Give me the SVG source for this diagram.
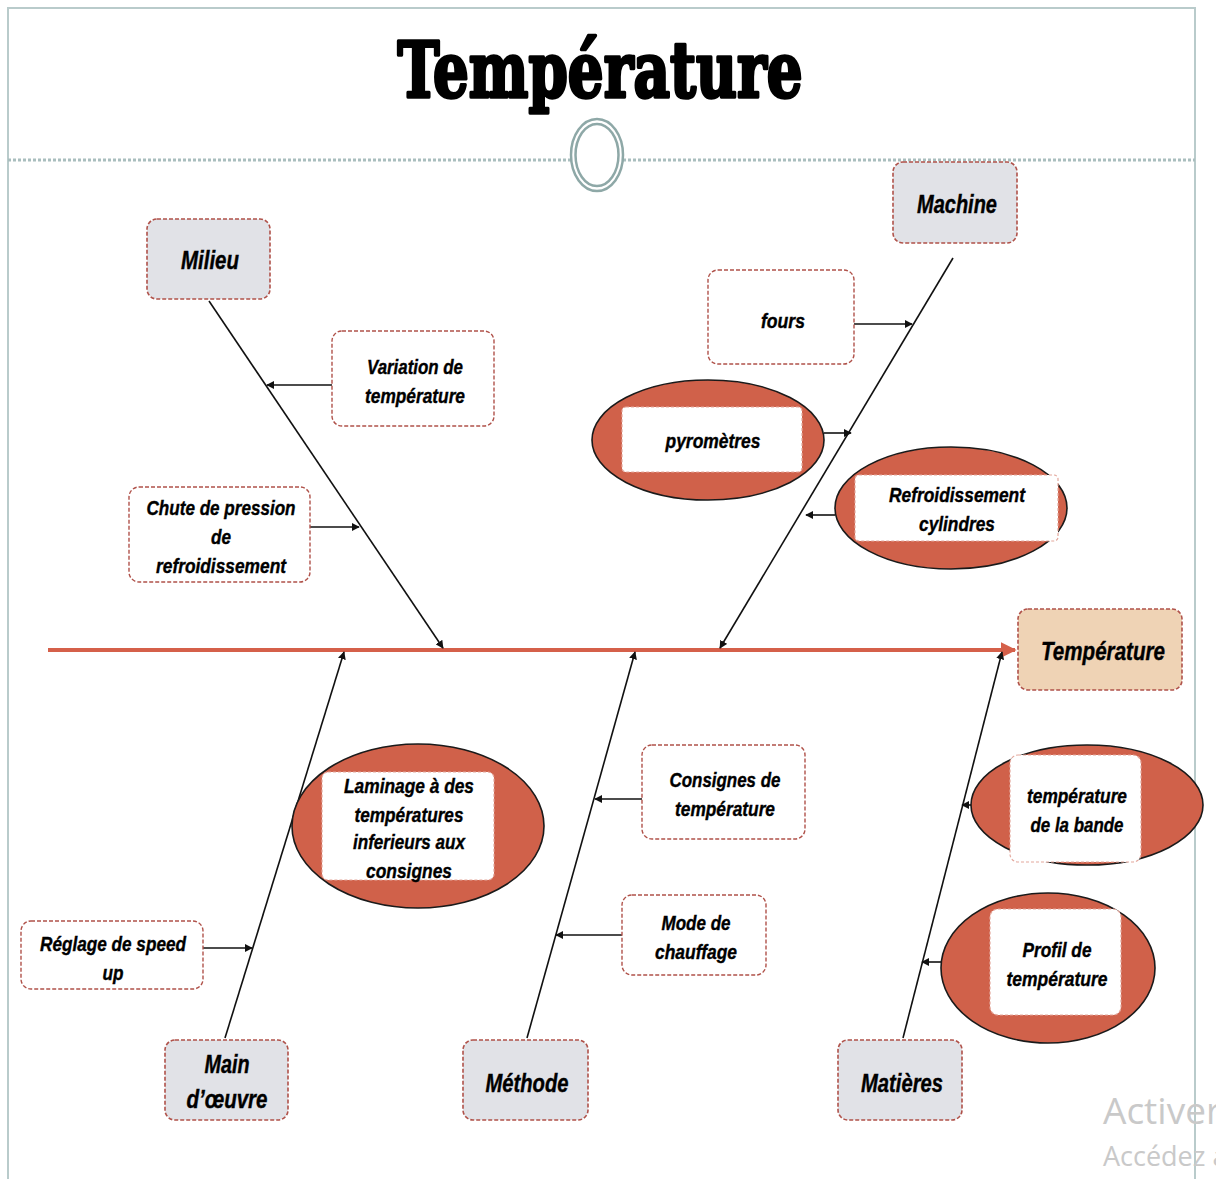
<svg xmlns="http://www.w3.org/2000/svg" width="1216" height="1179" viewBox="0 0 1216 1179">
  <style>
    .frame { stroke: #b9cbcb; stroke-width: 2; fill: none; }
    .cat { fill: #e1e2e7; stroke: #b0524a; stroke-width: 1.6; stroke-dasharray: 4 2; }
    .eff { fill: #efd3b5; stroke: #b0524a; stroke-width: 1.6; stroke-dasharray: 4 2; }
    .box { fill: #ffffff; stroke: #b0524a; stroke-width: 1.4; stroke-dasharray: 4 2; }
    .oval { fill: #d0614a; stroke: #1a1a1a; stroke-width: 1.6; }
    .inner { fill: #ffffff; stroke: #e3a79c; stroke-width: 1.2; stroke-dasharray: 3 2; }
    .bone { stroke: #111111; stroke-width: 1.6; fill: none; marker-end: url(#ah); }
    .twig { stroke: #111111; stroke-width: 1.6; fill: none; marker-end: url(#ah); }
    .lbl { font-family: "Liberation Sans Narrow", "Liberation Sans", Arial, sans-serif; font-weight: bold; font-style: italic; fill: #000000; stroke: #000000; stroke-width: 0.4; text-anchor: middle; }
    .big { font-size: 25px; }
    .small { font-size: 21px; }
    .wm { font-family: "Open Sans", "Noto Sans", sans-serif; fill: #c9c9c9; }
  </style>
  <defs>
    <marker id="ah" viewBox="0 0 10 10" refX="9" refY="5" markerWidth="8" markerHeight="8" markerUnits="userSpaceOnUse" orient="auto">
      <path d="M0,0 L10,5 L0,10 z" fill="#111111"/>
    </marker>
    <marker id="ahred" viewBox="0 0 10 10" refX="9" refY="5" markerWidth="4" markerHeight="4" orient="auto">
      <path d="M0,0 L10,5 L0,10 z" fill="#d5604a"/>
    </marker>
  </defs>

  <rect width="1216" height="1179" fill="#ffffff"/>

  <!-- page frame -->
  <g id="frame">
    <path class="frame" d="M8,1179 L8,8 L1195,8 L1195,1179"/>
    <line x1="8" y1="160" x2="1195" y2="160" stroke="#a9bebe" stroke-width="3" stroke-dasharray="3 2"/>
    <ellipse cx="597" cy="155" rx="26" ry="36" fill="#ffffff" stroke="#8ea8a7" stroke-width="2.5"/>
    <ellipse cx="597" cy="155" rx="21.5" ry="31" fill="#ffffff" stroke="#8ea8a7" stroke-width="2.5"/>
  </g>

  <!-- title -->
  <text id="title" x="600" y="97" text-anchor="middle" font-family="DejaVu Serif, Liberation Serif, serif" font-weight="bold" font-size="76" textLength="405" lengthAdjust="spacingAndGlyphs" fill="#000000" stroke="#000000" stroke-width="3.5" stroke-linejoin="round">Température</text>

  <!-- connectors -->
  <g id="connectors">
    <line x1="48" y1="650" x2="1015" y2="650" stroke="#d5604a" stroke-width="4" marker-end="url(#ahred)"/>
    <line class="bone" x1="209" y1="301" x2="443" y2="648"/>
    <line class="bone" x1="953" y1="258" x2="720" y2="648"/>
    <line class="bone" x1="225" y1="1038" x2="344" y2="652"/>
    <line class="bone" x1="527" y1="1038" x2="635" y2="652"/>
    <line class="bone" x1="903" y1="1038" x2="1002" y2="652"/>
    <line class="twig" x1="332" y1="385" x2="267" y2="385"/>
    <line class="twig" x1="310" y1="527" x2="359" y2="527"/>
    <line class="twig" x1="854" y1="324" x2="912" y2="324"/>
    <line class="twig" x1="824" y1="433" x2="851" y2="433"/>
    <line class="twig" x1="835" y1="515" x2="806" y2="515"/>
    <line class="twig" x1="322" y1="826" x2="292" y2="826"/>
    <line class="twig" x1="203" y1="948" x2="252" y2="948"/>
    <line class="twig" x1="642" y1="799" x2="595" y2="799"/>
    <line class="twig" x1="622" y1="935" x2="556" y2="935"/>
    <line class="twig" x1="972" y1="805" x2="962" y2="805"/>
    <line class="twig" x1="942" y1="962" x2="922" y2="962"/>
  </g>

  <!-- effect -->
  <g id="effect">
    <rect class="eff" x="1018" y="609" width="164" height="81" rx="10"/>
    <text class="lbl big" x="1103" y="660" textLength="124" lengthAdjust="spacingAndGlyphs">Température</text>
  </g>

  <!-- categories -->
  <g id="milieu">
    <rect class="cat" x="147" y="219" width="123" height="80" rx="10"/>
    <text class="lbl big" x="210" y="269" textLength="58" lengthAdjust="spacingAndGlyphs">Milieu</text>
  </g>
  <g id="machine">
    <rect class="cat" x="893" y="162" width="124" height="81" rx="10"/>
    <text class="lbl big" x="957" y="213" textLength="80" lengthAdjust="spacingAndGlyphs">Machine</text>
  </g>
  <g id="main-oeuvre">
    <rect class="cat" x="165" y="1040" width="123" height="80" rx="10"/>
    <text class="lbl big" x="227" y="1073" textLength="45" lengthAdjust="spacingAndGlyphs">Main</text>
    <text class="lbl big" x="227" y="1108" textLength="81" lengthAdjust="spacingAndGlyphs">d’œuvre</text>
  </g>
  <g id="methode">
    <rect class="cat" x="463" y="1040" width="125" height="80" rx="10"/>
    <text class="lbl big" x="527" y="1092" textLength="83" lengthAdjust="spacingAndGlyphs">Méthode</text>
  </g>
  <g id="matieres">
    <rect class="cat" x="838" y="1040" width="124" height="80" rx="10"/>
    <text class="lbl big" x="902" y="1092" textLength="82" lengthAdjust="spacingAndGlyphs">Matières</text>
  </g>

  <!-- causes: milieu -->
  <g id="variation">
    <rect class="box" x="332" y="331" width="162" height="95" rx="10"/>
    <text class="lbl small" x="415" y="374" textLength="96" lengthAdjust="spacingAndGlyphs">Variation de</text>
    <text class="lbl small" x="415" y="403" textLength="100" lengthAdjust="spacingAndGlyphs">température</text>
  </g>
  <g id="chute">
    <rect class="box" x="129" y="487" width="181" height="95" rx="10"/>
    <text class="lbl small" x="221" y="515" textLength="149" lengthAdjust="spacingAndGlyphs">Chute de pression</text>
    <text class="lbl small" x="221" y="544" textLength="20" lengthAdjust="spacingAndGlyphs">de</text>
    <text class="lbl small" x="221" y="573" textLength="130" lengthAdjust="spacingAndGlyphs">refroidissement</text>
  </g>

  <!-- causes: machine -->
  <g id="fours">
    <rect class="box" x="708" y="270" width="146" height="94" rx="10"/>
    <text class="lbl small" x="783" y="328" textLength="44" lengthAdjust="spacingAndGlyphs">fours</text>
  </g>
  <g id="pyrometres">
    <ellipse class="oval" cx="708" cy="440" rx="116" ry="60"/>
    <rect class="inner" x="622" y="407" width="180" height="65" rx="4"/>
    <text class="lbl small" x="713" y="448" textLength="95" lengthAdjust="spacingAndGlyphs">pyromètres</text>
  </g>
  <g id="refroidissement">
    <ellipse class="oval" cx="951" cy="508" rx="116" ry="61"/>
    <rect class="inner" x="855" y="475" width="203" height="66" rx="4"/>
    <text class="lbl small" x="957" y="502" textLength="136" lengthAdjust="spacingAndGlyphs">Refroidissement</text>
    <text class="lbl small" x="957" y="531" textLength="76" lengthAdjust="spacingAndGlyphs">cylindres</text>
  </g>

  <!-- causes: main d'oeuvre -->
  <g id="laminage">
    <ellipse class="oval" cx="418" cy="826" rx="126" ry="82"/>
    <rect class="inner" x="322" y="772" width="172" height="108" rx="6"/>
    <text class="lbl small" x="409" y="793" textLength="130" lengthAdjust="spacingAndGlyphs">Laminage  à des</text>
    <text class="lbl small" x="409" y="822" textLength="109" lengthAdjust="spacingAndGlyphs">températures</text>
    <text class="lbl small" x="409" y="849" textLength="112" lengthAdjust="spacingAndGlyphs">inferieurs aux</text>
    <text class="lbl small" x="409" y="878" textLength="86" lengthAdjust="spacingAndGlyphs">consignes</text>
  </g>
  <g id="reglage">
    <rect class="box" x="21" y="921" width="182" height="68" rx="10"/>
    <text class="lbl small" x="113" y="951" textLength="146" lengthAdjust="spacingAndGlyphs">Réglage de speed</text>
    <text class="lbl small" x="113" y="980" textLength="21" lengthAdjust="spacingAndGlyphs">up</text>
  </g>

  <!-- causes: methode -->
  <g id="consignes">
    <rect class="box" x="642" y="745" width="163" height="94" rx="10"/>
    <text class="lbl small" x="725" y="787" textLength="111" lengthAdjust="spacingAndGlyphs">Consignes de</text>
    <text class="lbl small" x="725" y="816" textLength="100" lengthAdjust="spacingAndGlyphs">température</text>
  </g>
  <g id="mode">
    <rect class="box" x="622" y="895" width="144" height="80" rx="10"/>
    <text class="lbl small" x="696" y="930" textLength="69" lengthAdjust="spacingAndGlyphs">Mode de</text>
    <text class="lbl small" x="696" y="959" textLength="82" lengthAdjust="spacingAndGlyphs">chauffage</text>
  </g>

  <!-- causes: matieres -->
  <g id="temp-bande">
    <ellipse class="oval" cx="1087" cy="805" rx="116" ry="60"/>
    <rect class="inner" x="1010" y="755" width="131" height="107" rx="8"/>
    <text class="lbl small" x="1077" y="803" textLength="100" lengthAdjust="spacingAndGlyphs">température</text>
    <text class="lbl small" x="1077" y="832" textLength="93" lengthAdjust="spacingAndGlyphs">de la bande</text>
  </g>
  <g id="profil">
    <ellipse class="oval" cx="1048" cy="968" rx="107" ry="75"/>
    <rect class="inner" x="990" y="909" width="131" height="106" rx="8"/>
    <text class="lbl small" x="1057" y="957" textLength="69" lengthAdjust="spacingAndGlyphs">Profil de</text>
    <text class="lbl small" x="1057" y="986" textLength="101" lengthAdjust="spacingAndGlyphs">température</text>
  </g>

  <!-- watermark, running past the right edge of the page -->
  <g id="watermark">
    <text class="wm" x="1103" y="1124" font-size="37">Activer W</text>
    <text class="wm" x="1103" y="1166" font-size="27">Accédez a</text>
  </g>
</svg>
